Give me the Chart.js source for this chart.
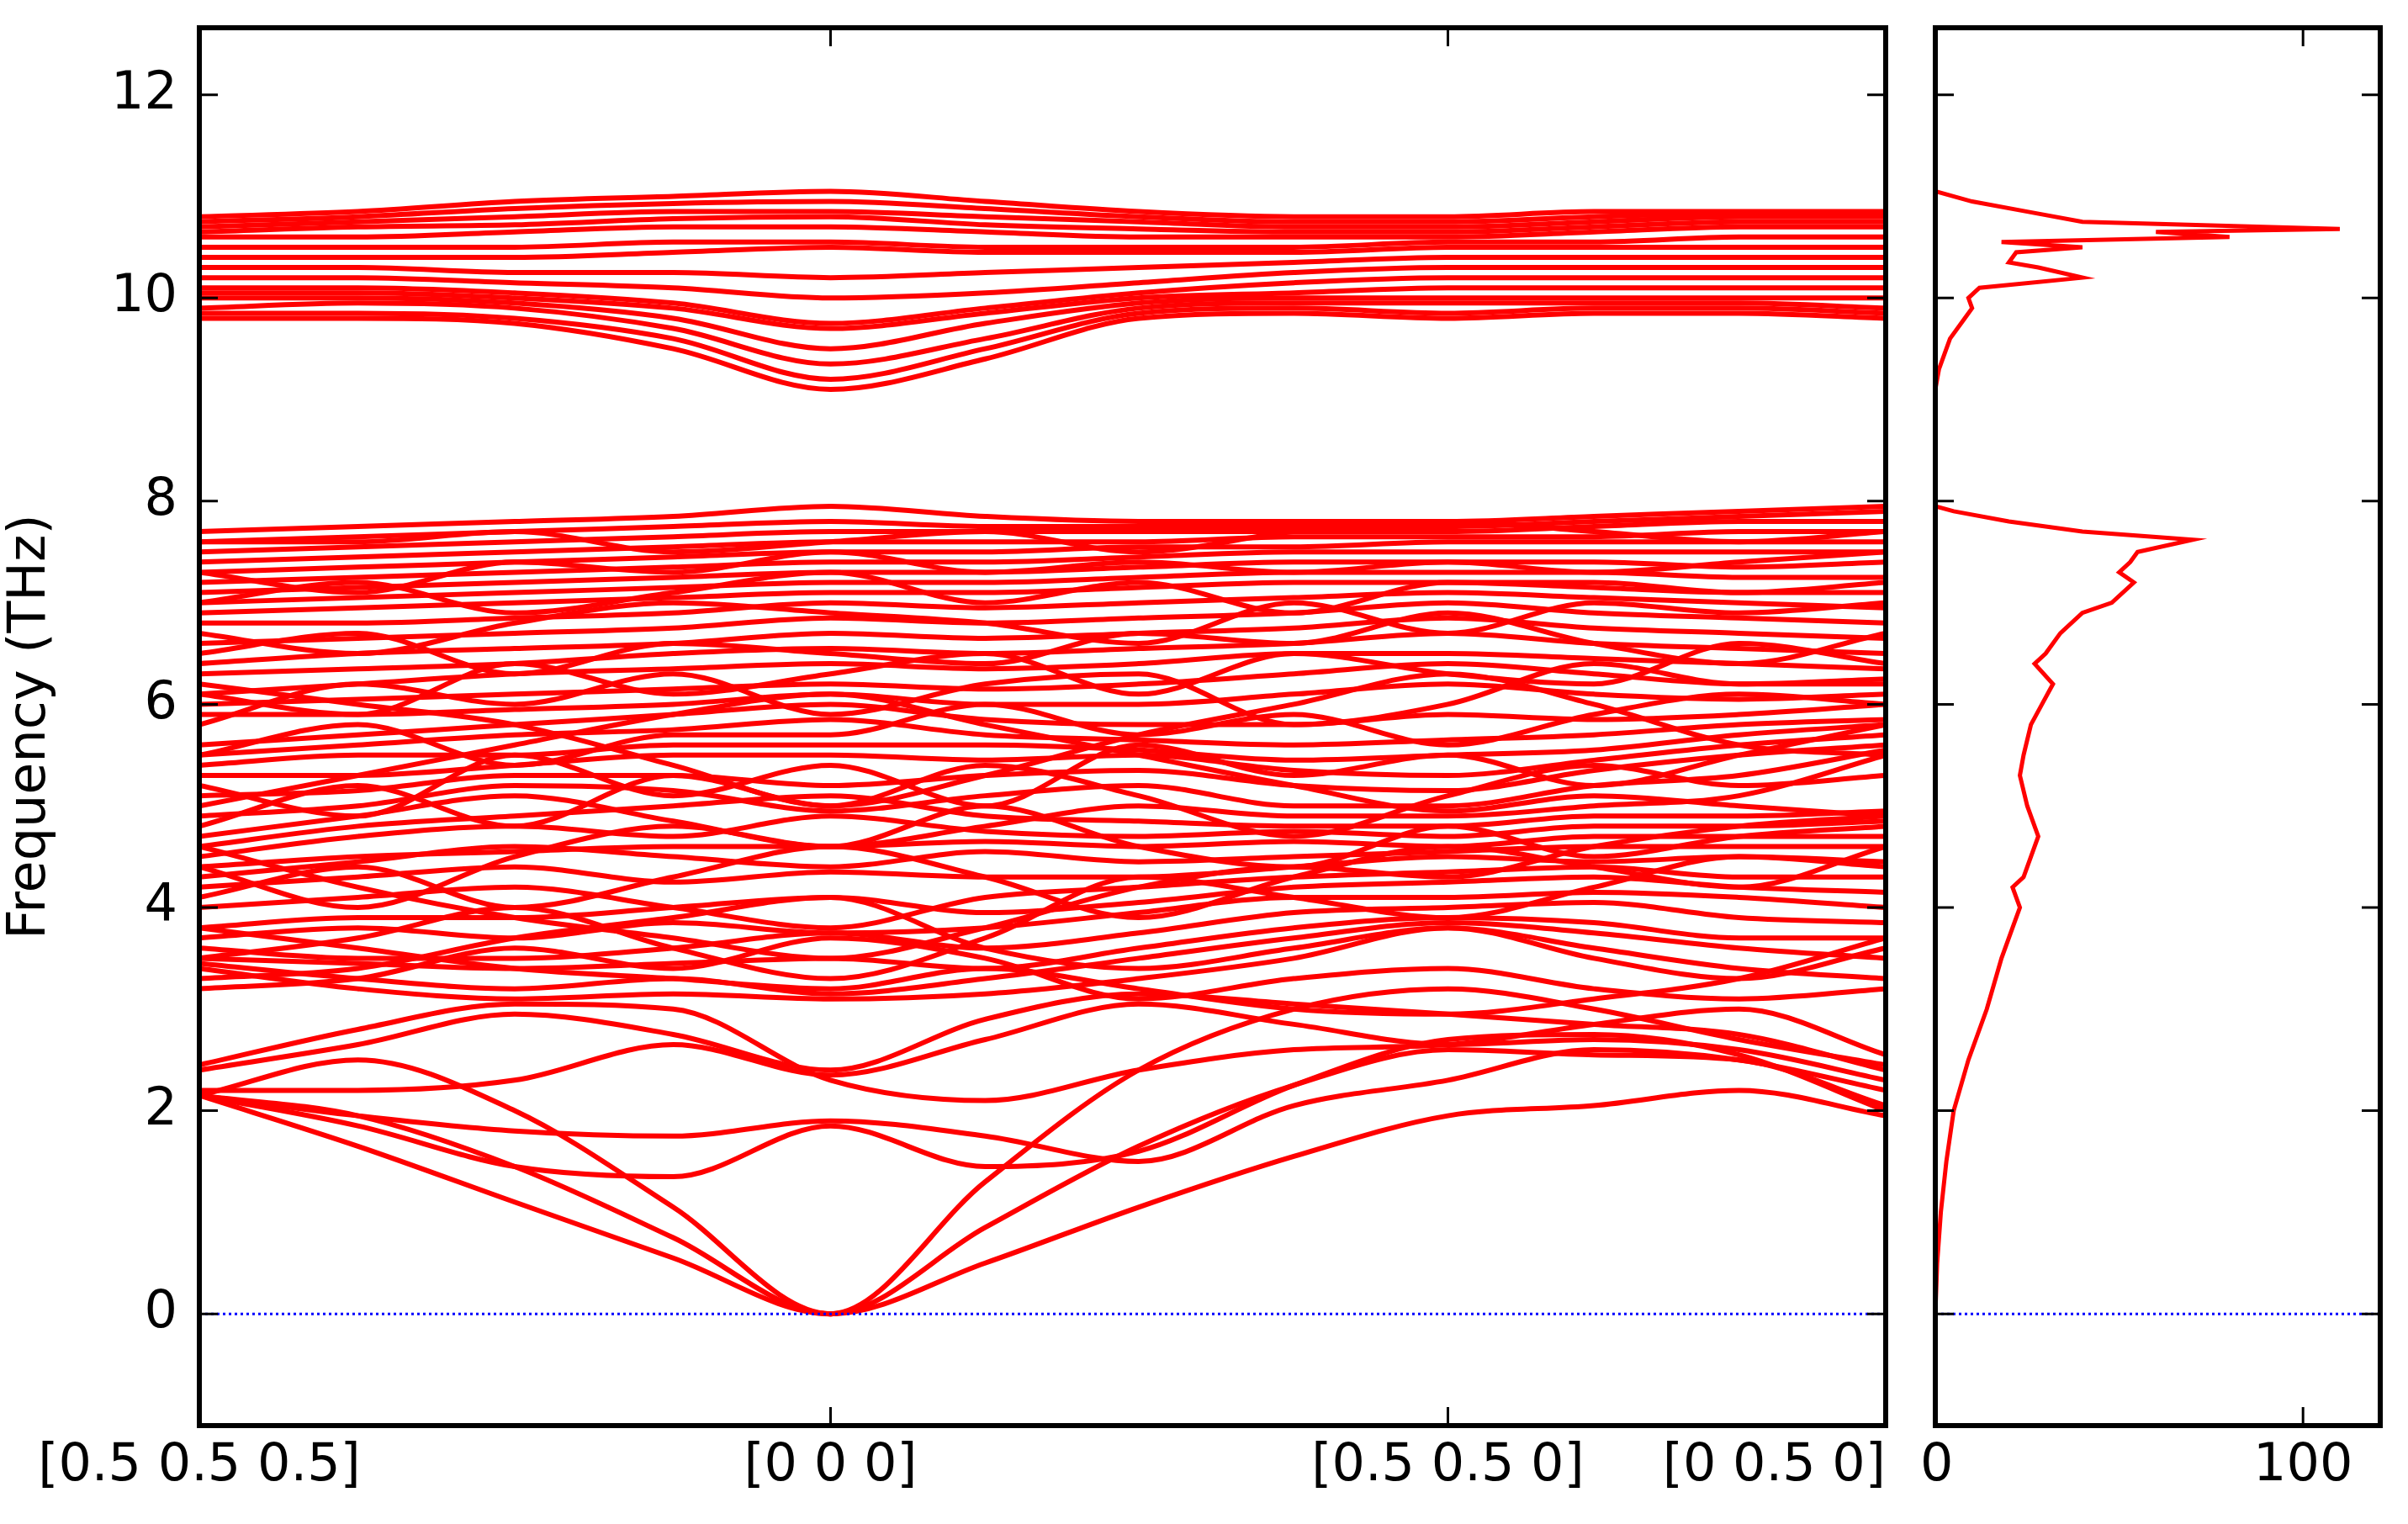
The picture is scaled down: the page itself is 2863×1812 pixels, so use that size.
<!DOCTYPE html>
<html><head><meta charset="utf-8">
<script src="https://cdn.jsdelivr.net/npm/chart.js@4/dist/chart.umd.min.js"></script>
<style>
html,body{margin:0;padding:0;background:#fff;}
#wrap{position:relative;width:2863px;height:1812px;}
canvas{position:absolute;left:0;top:0;}
</style></head><body>
<div id="wrap"><canvas id="c1" width="2863" height="1812"></canvas><canvas id="c2" width="2863" height="1812"></canvas></div>
<script>
// high-symmetry path
const kTicks = [0, 0.3743, 0.7404, 1.0];
const kLabels = ['[0.5 0.5 0.5]', '[0 0 0]', '[0.5 0.5 0]', '[0 0.5 0]'];
const kSample = [0, 0.094, 0.187, 0.281, 0.3743, 0.466, 0.557, 0.649, 0.7404, 0.827, 0.913, 1.0];
const yTicks = [0, 2, 4, 6, 8, 10, 12];
const dosTicks = [0, 100];
// band frequencies (THz) at kSample
const bandsLow = [
 [2.15,1.65,1.1,0.55,0.0,0.5,1.05,1.55,1.95,2.05,2.2,1.95],
 [2.15,1.95,1.45,0.75,0.0,0.85,1.65,2.25,2.6,2.55,2.5,2.05],
 [2.15,2.5,2.0,1.05,0.0,1.3,2.4,3.0,3.2,3.0,2.7,2.45],
 [2.15,1.95,1.8,1.75,1.9,1.75,1.5,2.05,2.3,2.6,2.5,2.2],
 [2.15,1.85,1.45,1.35,1.85,1.45,1.6,2.25,2.7,2.75,2.55,2.0],
 [2.2,2.2,2.3,2.65,2.35,2.7,3.05,2.85,2.65,2.7,2.6,2.3],
 [2.4,2.65,2.95,2.75,2.4,2.9,3.15,3.05,2.95,2.85,2.75,2.4],
 [2.45,2.8,3.05,3.0,2.3,2.1,2.4,2.6,2.65,2.85,3.0,2.55]
];
const bandsMid = [
 [3.4,3.2,3.1,3.15,3.1,3.15,3.3,3.5,3.8,3.6,3.4,3.3],
 [3.45,3.3,3.2,3.3,3.15,3.3,3.5,3.7,3.85,3.75,3.6,3.5],
 [3.5,3.45,3.4,3.45,3.5,3.4,3.6,3.8,3.9,3.85,3.7,3.7],
 [3.6,3.5,3.5,3.6,3.75,3.6,3.75,3.95,4.0,4.05,3.9,3.85],
 [3.7,3.8,3.7,3.85,3.75,3.8,3.95,4.1,4.1,4.15,4.1,4.0],
 [3.8,3.9,3.9,4.0,4.1,3.95,4.05,4.2,4.25,4.3,4.2,4.15],
 [4.0,4.1,4.2,4.0,3.8,4.1,4.2,4.3,4.35,4.4,4.3,4.3],
 [4.2,4.3,4.4,4.25,4.35,4.3,4.3,4.4,4.5,4.45,4.5,4.45],
 [4.3,4.45,4.6,4.5,4.4,4.55,4.45,4.5,4.55,4.6,4.6,4.6],
 [4.4,4.5,4.55,4.6,4.6,4.65,4.6,4.65,4.6,4.7,4.7,4.7],
 [4.5,4.7,4.8,4.7,4.9,4.75,4.7,4.75,4.7,4.8,4.8,4.85],
 [4.6,4.8,4.9,5.0,5.1,4.9,4.85,4.8,4.8,4.9,4.9,4.95],
 [4.7,4.9,5.1,4.85,4.6,4.8,5.0,4.9,4.9,5.0,5.1,5.5],
 [4.9,5.0,5.2,5.15,4.95,5.1,5.2,5.0,5.0,5.2,5.3,5.55],
 [5.1,5.15,5.3,5.3,5.2,5.3,5.35,5.2,5.15,5.35,5.5,5.6],
 [5.3,5.3,5.4,5.5,5.5,5.45,5.5,5.35,5.3,5.45,5.6,5.7],
 [5.4,5.5,5.5,5.6,5.6,5.6,5.55,5.45,5.5,5.55,5.7,5.8],
 [5.5,5.6,5.7,5.75,5.85,5.7,5.65,5.6,5.65,5.7,5.8,5.85],
 [5.6,5.7,5.8,5.9,6.0,5.85,5.8,5.8,5.9,5.85,5.9,6.0],
 [5.9,5.9,5.95,6.0,6.1,6.0,6.0,6.1,6.2,6.1,6.05,6.1],
 [6.0,6.05,6.1,6.15,6.2,6.15,6.2,6.3,6.4,6.3,6.2,6.25],
 [6.1,6.2,6.3,6.35,6.4,6.35,6.4,6.5,6.5,6.45,6.4,6.35],
 [6.3,6.35,6.4,6.5,6.55,6.5,6.55,6.6,6.7,6.6,6.55,6.5],
 [6.4,6.5,6.55,6.6,6.7,6.65,6.7,6.75,6.85,6.75,6.7,6.65],
 [6.6,6.65,6.7,6.75,6.85,6.8,6.85,6.9,7.0,6.9,6.85,6.8],
 [6.8,6.8,6.85,6.9,7.0,6.95,7.0,7.05,7.1,7.05,7.0,6.95],
 [6.9,6.95,7.0,7.05,7.1,7.1,7.15,7.2,7.2,7.15,7.1,7.1],
 [7.0,7.05,7.1,7.15,7.2,7.2,7.25,7.3,7.3,7.3,7.25,7.25],
 [7.1,7.15,7.2,7.25,7.3,7.3,7.35,7.4,7.4,7.4,7.35,7.4],
 [7.2,7.25,7.3,7.35,7.4,7.4,7.45,7.5,7.5,7.5,7.5,7.5],
 [7.3,7.35,7.4,7.45,7.5,7.5,7.55,7.55,7.6,7.6,7.6,7.6],
 [7.4,7.45,7.5,7.55,7.6,7.6,7.6,7.65,7.65,7.65,7.7,7.7],
 [7.5,7.55,7.6,7.65,7.7,7.7,7.7,7.7,7.7,7.75,7.8,7.8],
 [7.6,7.65,7.7,7.75,7.8,7.75,7.75,7.75,7.75,7.8,7.85,7.9],
 [7.7,7.75,7.8,7.85,7.95,7.85,7.8,7.8,7.8,7.85,7.9,7.95],
 [5.0,5.3,5.6,5.9,6.1,5.8,5.5,5.2,4.95,5.1,5.0,4.9],
 [6.2,6.0,5.8,5.4,5.0,5.3,5.7,6.0,6.3,6.0,5.6,5.5],
 [4.6,4.2,3.9,3.7,3.5,3.8,4.2,4.4,4.3,4.6,4.8,4.9],
 [3.8,3.6,3.4,3.3,3.2,3.4,3.2,3.0,2.95,3.1,3.3,3.7],
 [3.5,3.7,4.0,3.6,3.3,3.7,4.3,4.1,3.9,4.2,4.5,4.4],
 [4.1,4.4,4.0,4.3,4.6,4.3,3.9,4.3,4.6,4.4,4.2,4.6],
 [4.4,4.0,4.5,4.8,4.6,5.0,4.6,4.4,4.8,4.5,4.7,4.8],
 [4.8,5.2,4.8,5.3,5.0,5.4,5.1,4.7,5.1,5.4,5.2,5.3],
 [5.2,4.9,5.5,5.1,5.4,5.0,5.6,5.3,5.5,5.2,5.5,5.8],
 [5.5,5.8,5.4,5.7,5.7,6.0,5.7,5.9,5.6,5.9,6.1,6.0],
 [5.8,6.2,6.0,6.3,5.9,6.2,6.3,5.8,6.0,6.4,6.2,6.2],
 [6.1,5.9,6.4,6.1,6.3,6.5,6.1,6.5,6.3,6.2,6.6,6.4],
 [6.5,6.7,6.3,6.6,6.5,6.4,6.7,6.6,6.9,6.6,6.4,6.7],
 [6.7,6.5,6.8,7.0,6.9,6.8,6.6,7.0,6.7,7.0,6.9,7.0],
 [7.0,7.2,6.9,7.1,7.3,7.0,7.2,6.9,7.2,7.2,7.1,7.2],
 [7.3,7.1,7.4,7.3,7.5,7.3,7.4,7.3,7.4,7.3,7.4,7.5],
 [7.6,7.6,7.7,7.5,7.6,7.7,7.5,7.7,7.8,7.7,7.6,7.7],
 [3.3,3.4,3.7,3.9,4.1,3.6,3.4,3.6,3.8,3.5,3.3,3.6],
 [3.2,3.3,3.6,3.4,3.7,3.5,3.1,3.3,3.4,3.2,3.1,3.2]
];
const bandsHigh = [
 [9.8,9.8,9.75,9.5,9.1,9.4,9.8,9.85,9.8,9.85,9.85,9.8],
 [9.85,9.85,9.8,9.6,9.2,9.5,9.85,9.9,9.85,9.9,9.9,9.85],
 [9.9,9.95,9.9,9.7,9.35,9.6,9.9,9.95,9.95,9.95,9.95,9.9],
 [10.0,10.0,9.95,9.8,9.5,9.75,9.95,10.0,10.0,10.0,10.0,10.0],
 [10.05,10.05,10.0,9.9,9.7,9.85,10.0,10.05,10.1,10.1,10.1,10.1],
 [10.1,10.1,10.05,9.95,9.75,9.9,10.05,10.15,10.2,10.2,10.2,10.2],
 [10.2,10.2,10.15,10.1,10.0,10.05,10.15,10.25,10.3,10.3,10.3,10.3],
 [10.3,10.3,10.25,10.25,10.2,10.25,10.3,10.35,10.4,10.4,10.4,10.4],
 [10.4,10.4,10.4,10.45,10.5,10.45,10.45,10.45,10.5,10.5,10.5,10.5],
 [10.5,10.5,10.5,10.55,10.55,10.5,10.5,10.5,10.55,10.55,10.6,10.6],
 [10.6,10.6,10.65,10.7,10.7,10.65,10.6,10.6,10.6,10.65,10.7,10.7],
 [10.65,10.7,10.72,10.78,10.8,10.72,10.68,10.65,10.65,10.7,10.75,10.75],
 [10.7,10.75,10.8,10.85,10.85,10.8,10.75,10.7,10.7,10.75,10.8,10.8],
 [10.75,10.8,10.88,10.93,10.95,10.88,10.8,10.75,10.75,10.8,10.83,10.83],
 [10.8,10.85,10.95,11.0,11.05,10.95,10.85,10.8,10.8,10.85,10.85,10.85]
];
// DOS
const dosFreq = [0,0.5,1,1.5,2,2.5,3,3.5,3.8,4,4.2,4.3,4.5,4.7,5,5.3,5.5,5.8,6,6.2,6.4,6.5,6.7,6.9,7.0,7.2,7.3,7.4,7.5,7.62,7.7,7.8,7.9,7.95,9.1,9.3,9.6,9.8,9.9,10.0,10.1,10.2,10.3,10.35,10.45,10.5,10.55,10.6,10.65,10.68,10.75,10.85,10.95,11.05];
const dosVal  = [0,0.5,1.5,3,5,9,14,18,21,23,21,24,26,28,25,23,24,26,29,32,27,30,34,40,48,54,50,53,55,70,40,20,5,0,0,1,4,8,10,9,12,40,28,20,22,40,18,80,60,110,40,25,10,0];

const RED = '#ff0000';
const FONT = {family:'DejaVu Sans', size:62};
const mainData = [...bandsLow, ...bandsMid, ...bandsHigh].map(b => ({
  data: b.map((v,i)=>({x:kSample[i], y:v})),
  borderColor: RED, borderWidth: 6, pointRadius: 0, tension: 0.4, cubicInterpolationMode:'monotone', fill:false
}));
const zeroLine = (x0,x1) => ({data:[{x:x0,y:0},{x:x1,y:0}], showLine:true, borderColor:'#0000ff', borderWidth:3, borderDash:[3,4], pointRadius:0});

function inTicks(xVals, yVals, labels, aligns){
  return {id:'inTicks', afterDraw(ch){
    const c=ch.ctx, a=ch.chartArea, L=22; c.save(); c.strokeStyle='#000'; c.lineWidth=3;
    for(const v of yVals){const p=ch.scales.y.getPixelForValue(v); c.beginPath(); c.moveTo(a.left,p); c.lineTo(a.left+L,p); c.moveTo(a.right,p); c.lineTo(a.right-L,p); c.stroke();}
    for(const v of xVals){const p=ch.scales.x.getPixelForValue(v); c.beginPath(); c.moveTo(p,a.top); c.lineTo(p,a.top+L); c.moveTo(p,a.bottom); c.lineTo(p,a.bottom-L); c.stroke();}
    c.lineWidth=6; c.strokeRect(a.left,a.top,a.right-a.left,a.bottom-a.top);
    c.fillStyle='#000'; c.font='62px "DejaVu Sans"'; c.textBaseline='top';
    labels.forEach((t,i)=>{const p=ch.scales.x.getPixelForValue(labels.vals[i]); c.textAlign=aligns[i][0]; c.fillText(t,p+aligns[i][1],a.bottom+18);});
    c.restore();
  }};
}
const common = {responsive:false, animation:false, plugins:{legend:{display:false}, tooltip:{enabled:false}}};
const mainLabels = kLabels.slice(); mainLabels.vals = kTicks;
const dosLabels = dosTicks.map(String); dosLabels.vals = dosTicks;

new Chart(document.getElementById('c1'), {
  type:'line',
  data:{datasets:[zeroLine(0,1), ...mainData]},
  options:{...common, layout:{padding:{left:0,right:621,top:33,bottom:0}},
    scales:{
      x:{type:'linear', min:0, max:1, grid:{display:false}, border:{display:false},
        afterFit(s){s.height=117;}, ticks:{display:false}},
      y:{min:-1.1, max:12.66, grid:{display:false}, border:{display:false},
        afterBuildTicks(s){s.ticks = yTicks.map(v=>({value:v}));},
        afterFit(s){s.width=237; s.paddingTop=0; s.paddingBottom=0;},
        title:{display:true, text:'Frequency (THz)', font:FONT, color:'#000', padding:0},
        ticks:{font:FONT, color:'#000', padding:18}}
    }},
  plugins:[inTicks(kTicks.slice(1,3), yTicks, mainLabels, [['center',0],['center',0],['center',0],['right',0]])]
});

new Chart(document.getElementById('c2'), {
  type:'scatter',
  data:{datasets:[zeroLine(0,121), {data:dosVal.map((v,i)=>({x:v,y:dosFreq[i]})), showLine:true, borderColor:RED, borderWidth:5, pointRadius:0, tension:0}]},
  options:{...common, layout:{padding:{left:0,right:33,top:33,bottom:0}},
    scales:{
      x:{type:'linear', min:0, max:121, grid:{display:false}, border:{display:false},
        afterFit(s){s.height=117;}, ticks:{display:false}},
      y:{min:-1.1, max:12.66, grid:{display:false}, border:{display:false},
        afterBuildTicks(s){s.ticks = yTicks.map(v=>({value:v}));},
        afterFit(s){s.width=2301;},
        ticks:{display:false}}
    }},
  plugins:[inTicks([100], yTicks, dosLabels, [['left',-18],['center',0]])]
});
</script></body></html>
